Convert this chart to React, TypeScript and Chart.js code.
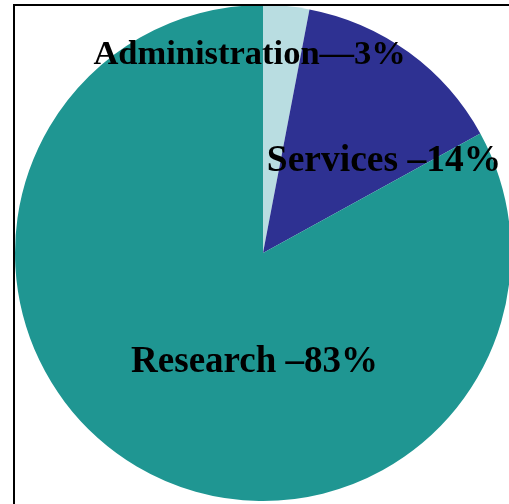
import React, { useEffect, useRef } from "react";
import { Chart, registerables } from "chart.js";

Chart.register(...registerables);

const categories = ["Administration", "Services", "Research"];
const shares = [3, 14, 83];
const labelTexts = ["Administration—3%", "Services –14%", "Research –83%"];
const sliceColors = ["#b9dde1", "#2e3192", "#1f9692"];

// label anchor offsets (in units of the pie radius, from the pie centre)
const labelOffsets: [number, number][] = [
  [-0.054, -0.762],
  [0.488, -0.331],
  [-0.034, 0.48],
];
const labelFontSizes = [34.5, 37.5, 37];

const sliceLabelPlugin = {
  id: "sliceLabels",
  afterDatasetsDraw(chart: any) {
    const meta = chart.getDatasetMeta(0);
    const ctx = chart.ctx;
    meta.data.forEach((arc: any, i: number) => {
      const { x, y, outerRadius } = arc.getProps(["x", "y", "outerRadius"], true);
      const [dx, dy] = labelOffsets[i];
      ctx.save();
      ctx.font = `bold ${labelFontSizes[i]}px 'Liberation Serif', 'Times New Roman', serif`;
      ctx.fillStyle = "#000";
      ctx.textAlign = "center";
      ctx.textBaseline = "alphabetic";
      ctx.fillText(labelTexts[i], x + dx * outerRadius, y + dy * outerRadius);
      ctx.restore();
    });
  },
};

const framePlugin = {
  id: "frame",
  afterDraw(chart: any) {
    const ctx = chart.ctx;
    ctx.save();
    ctx.strokeStyle = "#000";
    ctx.lineWidth = 2;
    ctx.strokeRect(14, 5, 700, 700);
    ctx.restore();
  },
};

export default function App() {
  const ref = useRef<HTMLCanvasElement | null>(null);
  useEffect(() => {
    if (!ref.current) return;
    const chart = new Chart(ref.current, {
      type: "pie",
      data: {
        labels: categories,
        datasets: [
          {
            data: shares,
            backgroundColor: sliceColors,
            borderWidth: 0,
            hoverOffset: 0,
            clip: false as any,
          },
        ],
      },
      options: {
        responsive: false,
        animation: false,
        radius: 248,
        layout: { padding: { left: 17, right: 0, top: 2, bottom: 0 } },
        plugins: { legend: { display: false }, tooltip: { enabled: false } },
      } as any,
      plugins: [sliceLabelPlugin, framePlugin],
    });
    return () => chart.destroy();
  }, []);
  return (
    <div
      style={{
        position: "fixed",
        left: 0,
        top: 0,
        width: 509,
        height: 504,
        overflow: "hidden",
        background: "#fff",
      }}
    >
      <canvas ref={ref} width={509} height={504} style={{ display: "block" }} />
    </div>
  );
}
